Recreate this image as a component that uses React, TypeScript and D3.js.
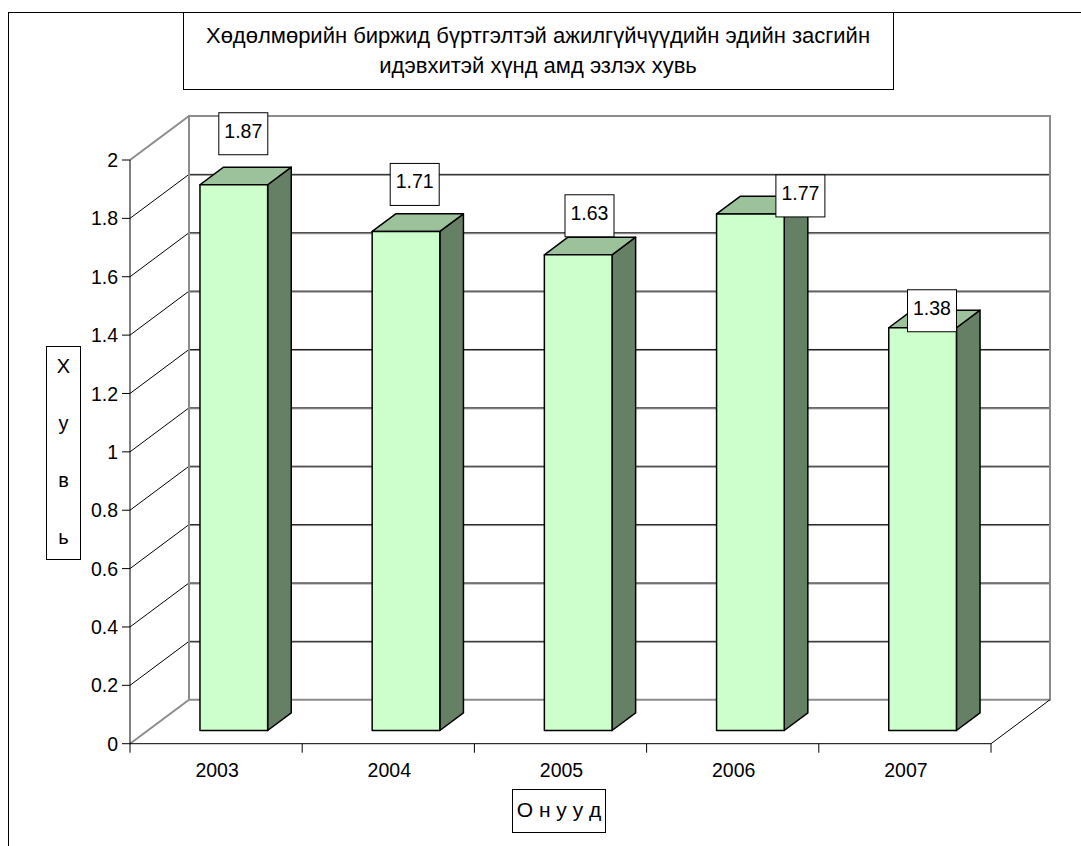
import React from 'react';
import * as d3 from 'd3';

const years = ['2003', '2004', '2005', '2006', '2007'];
const values = [1.87, 1.71, 1.63, 1.77, 1.38];
const yTicks = [0, 0.2, 0.4, 0.6, 0.8, 1, 1.2, 1.4, 1.6, 1.8, 2];
const yTickLabels = ['0', '0.2', '0.4', '0.6', '0.8', '1', '1.2', '1.4', '1.6', '1.8', '2'];
const titleLines = [
  'Хөдөлмөрийн биржид бүртгэлтэй ажилгүйчүүдийн эдийн засгийн',
  'идэвхитэй хүнд амд эзлэх хувь',
];
const yAxisTitleChars = ['Х', 'у', 'в', 'ь'];
const xAxisTitle = 'О н у у д';
// layout: label box offsets relative to bar front-top centre (px)
const labelOffsets: [number, number][] = [
  [9.5, -51],
  [8.7, -47],
  [11.3, -39],
  [50, -18],
  [9.4, -17],
];

const W = 1081;
const H = 846;
const FONT = '"Liberation Sans", Arial, sans-serif';
const DX = 59;
const DY = -44;
const Z0 = 0.3;
const Z1 = 0.7;
const BAR_FRAC = 0.393;

export default function App() {
  const x = d3.scaleBand<string>().domain(years).range([130, 991]).paddingInner(0).paddingOuter(0);
  const y = d3.scaleLinear().domain([0, 2]).range([743.7, 160]);
  const P = (px: number, v: number, z: number): [number, number] => [px + z * DX, y(v) + z * DY];
  const poly = (pts: [number, number][]) => pts.map((p) => p.join(',')).join(' ');
  const bw = x.bandwidth();
  const x0 = 130;
  const x1 = 991;

  const gray = '#8c8c8c';

  return (
    <svg
      width={W}
      height={H}
      style={{ position: 'absolute', left: 0, top: 0, background: '#fff' }}
      fontFamily={FONT}
    >
      {/* outer frame */}
      <rect x={8.5} y={12.5} width={W + 20} height={H + 20} fill="#fff" stroke="#000" strokeWidth={1} />

      {/* title */}
      <rect x={183.5} y={12.5} width={710} height={77} fill="#fff" stroke="#000" strokeWidth={1} />
      {titleLines.map((t, i) => (
        <text key={i} x={538} y={43 + i * 30} textAnchor="middle" fontSize={22} fill="#000">
          {t}
        </text>
      ))}

      {/* back wall grid lines */}
      {yTicks.slice(1, -1).map((t, i) => {
        const a = P(x0, t, 1);
        const b = P(x1, t, 1);
        return (
          <g key={'g' + i}>
            <line x1={a[0]} y1={a[1] + 1} x2={b[0]} y2={b[1] + 1} stroke={gray} strokeWidth={1} />
            <line x1={a[0]} y1={a[1]} x2={b[0]} y2={b[1]} stroke="#1a1a1a" strokeWidth={1} />
          </g>
        );
      })}
      {/* left wall diagonals */}
      {yTicks.map((t, i) => {
        const a = P(x0, t, 0);
        const b = P(x0, t, 1);
        const edge = i === 0 || i === yTicks.length - 1;
        return (
          <line
            key={'d' + i}
            x1={a[0]}
            y1={a[1]}
            x2={b[0]}
            y2={b[1]}
            stroke={edge ? gray : '#000'}
            strokeWidth={edge ? 2 : 1}
          />
        );
      })}
      {/* back wall border */}
      <polyline
        points={poly([P(x0, 0, 1), P(x0, 2, 1), P(x1, 2, 1), P(x1, 0, 1), P(x0, 0, 1)])}
        fill="none"
        stroke={gray}
        strokeWidth={2}
      />
      {/* floor right edge */}
      <line x1={P(x1, 0, 0)[0]} y1={P(x1, 0, 0)[1]} x2={P(x1, 0, 1)[0]} y2={P(x1, 0, 1)[1]} stroke="#000" strokeWidth={1} />

      {/* bars */}
      {years.map((yr, i) => {
        const v = values[i];
        const cx = (x(yr) as number) + bw / 2;
        const hw = (bw * BAR_FRAC) / 2;
        const l = cx - hw;
        const r = cx + hw;
        const front = [P(l, 0, Z0), P(l, v, Z0), P(r, v, Z0), P(r, 0, Z0)];
        const top = [P(l, v, Z0), P(l, v, Z1), P(r, v, Z1), P(r, v, Z0)];
        const side = [P(r, 0, Z0), P(r, v, Z0), P(r, v, Z1), P(r, 0, Z1)];
        return (
          <g key={yr} stroke="#000" strokeWidth={1.5} strokeLinejoin="round">
            <polygon points={poly(side)} fill="#668066" />
            <polygon points={poly(top)} fill="#9cc29c" />
            <polygon points={poly(front)} fill="#ccffcc" />
          </g>
        );
      })}

      {/* data labels */}
      {years.map((yr, i) => {
        const v = values[i];
        const cx = (x(yr) as number) + bw / 2;
        const [fx, fy] = P(cx, v, Z0);
        const lx = fx + labelOffsets[i][0];
        const ly = fy + labelOffsets[i][1];
        return (
          <g key={'l' + yr}>
            <rect x={lx - 24.5} y={ly - 21} width={49} height={42} fill="#fff" stroke="#000" strokeWidth={1} />
            <text x={lx} y={ly + 4} textAnchor="middle" fontSize={19.5} fill="#000">
              {v.toFixed(2)}
            </text>
          </g>
        );
      })}

      {/* y axis */}
      <line x1={x0} y1={y(0)} x2={x0} y2={y(2)} stroke="#000" strokeWidth={1} />
      {yTicks.map((t, i) => (
        <g key={'yt' + i}>
          <line x1={x0 - 8} y1={y(t)} x2={x0} y2={y(t)} stroke="#000" strokeWidth={1} />
          <text x={118} y={y(t)} dy="0.36em" textAnchor="end" fontSize={19.5} fill="#000">
            {yTickLabels[i]}
          </text>
        </g>
      ))}

      {/* x axis */}
      <line x1={x0} y1={y(0)} x2={x1} y2={y(0)} stroke="#000" strokeWidth={1} />
      {[...years.map((yr) => x(yr) as number), x1].map((px, i) => (
        <line key={'xt' + i} x1={px} y1={y(0)} x2={px} y2={y(0) + 9} stroke="#000" strokeWidth={1} />
      ))}
      {years.map((yr) => (
        <text key={'xl' + yr} x={(x(yr) as number) + bw / 2 + 1} y={777} textAnchor="middle" fontSize={19.5} fill="#000">
          {yr}
        </text>
      ))}

      {/* x axis title */}
      <rect x={512.5} y={789.5} width={93} height={43} fill="#fff" stroke="#000" strokeWidth={1} />
      <text x={559} y={817} textAnchor="middle" fontSize={21} fill="#000">
        {xAxisTitle}
      </text>

      {/* y axis title */}
      <rect x={46.5} y={346.5} width={34} height={213} fill="#fff" stroke="#000" strokeWidth={1} />
      {yAxisTitleChars.map((c, i) => (
        <text key={'yc' + i} x={63.5} y={373 + i * 57} textAnchor="middle" fontSize={20} fill="#000">
          {c}
        </text>
      ))}
    </svg>
  );
}
